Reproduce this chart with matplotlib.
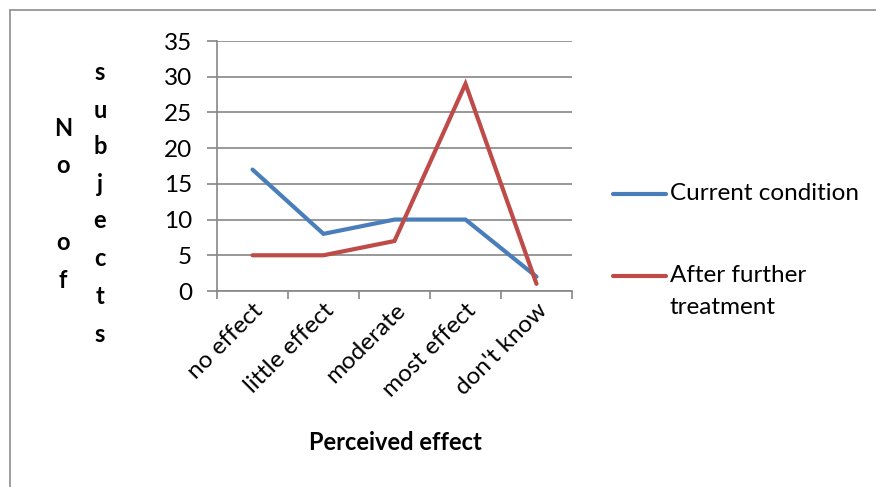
import matplotlib
matplotlib.use("Agg")
import matplotlib.pyplot as plt
from matplotlib.patches import Rectangle

categories = ["no effect", "little effect", "moderate", "most effect", "don't know"]
current = [17, 8, 10, 10, 2]
after = [5, 5, 7, 29, 1]
series_names = ["Current condition", "After further\ntreatment"]
yticks = [0, 5, 10, 15, 20, 25, 30, 35]

FONT = ["Lato", "DejaVu Sans"]
plt.rcParams['font.family'] = FONT

W, H = 876, 487
fig = plt.figure(figsize=(W/100, H/100), dpi=100)

def fx(px): return px / W
def fy(py): return 1 - py / H

# outer border
fig.patches.append(Rectangle((fx(10), fy(H + 5)), fx(W + 5) - fx(10), fy(10) - fy(H + 5),
                             transform=fig.transFigure, fill=False, edgecolor="#8c8c8c", lw=1.2))

ax = fig.add_axes([fx(217), fy(291), fx(572) - fx(217), fy(41) - fy(291)])
blue = "#4A7EBB"
red = "#BE4B48"
grid = "#868686"
x = list(range(len(categories)))
ax.plot(x, current, color=blue, lw=3.0, solid_capstyle="round", solid_joinstyle="miter", zorder=3)
ax.plot(x, after, color=red, lw=3.0, solid_capstyle="round", solid_joinstyle="miter", zorder=3)

ax.set_xlim(-0.5, len(categories) - 0.5)
ax.set_ylim(0, 35)
ax.set_yticks(yticks)
ax.set_yticklabels([str(v) for v in yticks], fontsize=17.5)
for v in yticks:
    ax.axhline(v, color=grid, lw=1.2, zorder=1)
ax.set_xticks([i - 0.5 for i in range(len(categories) + 1)])
ax.set_xticklabels([])
ax.set_xticks(x, minor=True)
ax.set_xticklabels(categories, minor=True, rotation=45, ha="right", va="top",
                   rotation_mode="anchor", fontsize=17.5)
ax.tick_params(axis="x", which="minor", length=0, pad=6)
ax.tick_params(axis="x", which="major", length=6, color=grid, width=1.2, direction="out")
ax.tick_params(axis="y", length=7, color=grid, width=1.2, direction="out", pad=11)
for s in ["top", "right"]:
    ax.spines[s].set_visible(False)
ax.spines["left"].set_color(grid)
ax.spines["left"].set_linewidth(1.2)
ax.spines["bottom"].set_color(grid)
ax.spines["bottom"].set_linewidth(1.2)
ax.set_facecolor("none")

# y label as wrapped columns of letters
col1 = [("N", 128), ("o", 165), ("o", 243), ("f", 280)]
for ch, py in col1:
    fig.text(fx(63), fy(py), ch, ha="center", va="center", fontsize=17, fontweight="bold")
col2 = list(zip("subjects", [73, 110, 147, 184, 221, 258, 297, 335]))
for ch, py in col2:
    fig.text(fx(100), fy(py), ch, ha="center", va="center", fontsize=17, fontweight="bold")

fig.text(fx(395), fy(443), "Perceived effect", ha="center", va="center", fontsize=17, fontweight="bold")

# legend
fig.add_artist(plt.Line2D([fx(613), fx(666)], [fy(194), fy(194)], color=blue, lw=3.0,
                          solid_capstyle="round", transform=fig.transFigure))
fig.add_artist(plt.Line2D([fx(613), fx(666)], [fy(276), fy(276)], color=red, lw=3.0,
                          solid_capstyle="round", transform=fig.transFigure))
fig.text(fx(670), fy(194), series_names[0], ha="left", va="center", fontsize=17.5)
for i, line in enumerate(series_names[1].split("\n")):
    fig.text(fx(670), fy(276 + 32 * i), line, ha="left", va="center", fontsize=17.5)

fig.savefig("out.png", dpi=100)
